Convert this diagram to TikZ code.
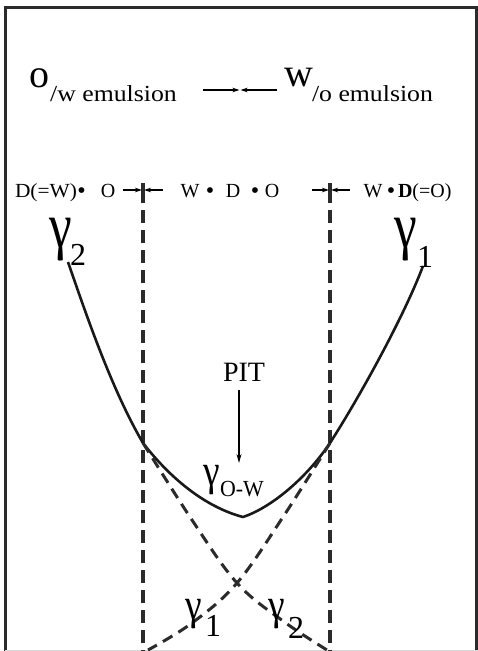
\documentclass[tikz,border=0pt]{standalone}
\usepackage{fontspec}
\setmainfont{Liberation Serif}
\usetikzlibrary{arrows.meta}
\definecolor{fg}{HTML}{2B2B2B}
\begin{document}
\begin{tikzpicture}[x=1pt,y=-1pt,
  lbl/.style={inner sep=0pt, outer sep=0pt},
  rowtwo/.style={lbl, anchor=base, font=\fontsize{20}{20}\selectfont},
  dotc/.style={lbl, anchor=base, font=\fontsize{24}{24}\selectfont},
  smallarr/.style={line width=1.1pt, -{Stealth[length=7pt,width=4.5pt]}},
  vline/.style={draw=fg, line width=4.5pt},
  vdash/.style={draw=fg, line width=4.5pt, dash pattern=on 13pt off 7pt},
  cdash/.style={draw=fg, line width=3pt, dash pattern=on 11pt off 7pt},
  solidc/.style={draw=black!90, line width=2.6pt},
  biggam/.style={lbl, font=\fontsize{64}{64}\selectfont},
  midgam/.style={lbl, font=\fontsize{44}{44}\selectfont},
  subnum/.style={lbl, font=\fontsize{32}{32}\selectfont},
]
\useasboundingbox (0,0) rectangle (478,651);
% frame
\coordinate (fbl) at (5.5,651);
\coordinate (ftl) at (5.5,7.5);
\coordinate (ftr) at (476,7.5);
\coordinate (fbr) at (476,651);
\draw[fg, line width=3pt] (fbl) -- (ftl) -- (ftr) -- (fbr);
\coordinate (bl) at (5,650.5);
\coordinate (br) at (478,650.5);
\draw[gray!30, line width=1pt] (bl) -- (br);

% row 1
\node[lbl, anchor=center] (obig) at (39,78) {\fontsize{40}{40}\selectfont o};
\node[lbl, anchor=center] (wemul) at (113.5,94) {\fontsize{23}{23}\selectfont\scalebox{1.12}[1]{/w emulsion}};
\coordinate (a1s) at (203,90); \coordinate (a1e) at (239.5,90);
\coordinate (a2s) at (277,90); \coordinate (a2e) at (240.5,90);
\draw[smallarr] (a1s) -- (a1e);
\draw[smallarr] (a2s) -- (a2e);
\node[lbl, anchor=center] (wbig) at (299,78) {\fontsize{40}{40}\selectfont w};
\node[lbl, anchor=center] (oemul) at (372.5,94) {\fontsize{23}{23}\selectfont\scalebox{1.12}[1]{/o emulsion}};

% row 2
\node[rowtwo] (d1) at (46,197) {\scalebox{1.07}[1]{D(=W)}};
\node[dotc] (b1) at (81.5,198.5) {•};
\node[rowtwo] (o1) at (108,197) {O};
\node[rowtwo] (w2) at (190,197) {W};
\node[dotc] (b2) at (210,198.5) {•};
\node[rowtwo] (d2) at (233,197) {D};
\node[dotc] (b3) at (255,198.5) {•};
\node[rowtwo] (o2) at (272,197) {O};
\node[rowtwo] (w3) at (373,197) {W};
\node[dotc] (b4) at (391,198.5) {•};
\node[rowtwo, anchor=base west] (d3) at (398,197) {\textbf{D}(=O)};

% vertical dashed boundaries
\coordinate (v1a) at (143,183); \coordinate (v1b) at (143,203);
\coordinate (v1c) at (143,210); \coordinate (v1d) at (143,651);
\coordinate (v2a) at (330,183); \coordinate (v2b) at (330,203);
\coordinate (v2c) at (330,210); \coordinate (v2d) at (330,651);
\draw[vline] (v1a) -- (v1b);
\draw[vdash] (v1c) -- (v1d);
\draw[vline] (v2a) -- (v2b);
\draw[vdash] (v2c) -- (v2d);

% row 2 arrows
\coordinate (r1s) at (123,190); \coordinate (r1e) at (142,190);
\coordinate (r2s) at (163,190); \coordinate (r2e) at (144,190);
\coordinate (r3s) at (312,190); \coordinate (r3e) at (329,190);
\coordinate (r4s) at (350,190); \coordinate (r4e) at (331,190);
\draw[smallarr] (r1s) -- (r1e);
\draw[smallarr] (r2s) -- (r2e);
\draw[smallarr] (r3s) -- (r3e);
\draw[smallarr] (r4s) -- (r4e);

% curves
\coordinate (g2top) at (68,262);
\coordinate (jl) at (143,443);
\coordinate (pmin) at (243,517);
\coordinate (jr) at (330,443);
\coordinate (g1top) at (423,266);
\draw[solidc, line join=round] (g2top) .. controls (87,317) and (112,390) .. (jl)
  .. controls (170,478) and (205,507) .. (pmin)
  .. controls (270,508) and (305,480) .. (jr)
  .. controls (362,393) and (405,314) .. (g1top);
\draw[cdash] plot[smooth, tension=0.6] coordinates {(143,443) (192,520) (237,583) (283,621) (327,650)};
\draw[cdash] plot[smooth, tension=0.6] coordinates {(330,443) (283,517) (237,583) (192,623) (148,650)};

% gamma labels
\node[biggam, anchor=center] (g2) at (61,240) {\scalebox{0.8}[1]{γ}};
\node[subnum, anchor=center] (g2s) at (78,255) {2};
\node[biggam, anchor=center] (g1) at (406,240) {\scalebox{0.8}[1]{γ}};
\node[subnum, anchor=center] (g1s) at (425,256.5) {1};
\node[midgam, anchor=center] (g1b) at (193.5,614) {\scalebox{0.85}[1]{γ}};
\node[subnum, anchor=center] (g1bs) at (213,625.5) {1};
\node[midgam, anchor=center] (g2b) at (277,614) {\scalebox{0.85}[1]{γ}};
\node[subnum, anchor=center] (g2bs) at (296,627.5) {2};
\node[midgam, anchor=center] (gow) at (212,480) {\scalebox{0.85}[1]{γ}};
\node[lbl, anchor=center, font=\fontsize{23}{23}\selectfont] (gows) at (242,489) {\scalebox{0.95}[1]{O-W}};

% PIT
\node[lbl, anchor=center, font=\fontsize{28}{28}\selectfont] (pit) at (244,372.5) {PIT};
\coordinate (pitstart) at (239,390);
\coordinate (pitend) at (239,463);
\draw[line width=1.1pt, -{Stealth[length=9pt,width=5pt]}] (pitstart) -- (pitend);
\end{tikzpicture}
\end{document}
